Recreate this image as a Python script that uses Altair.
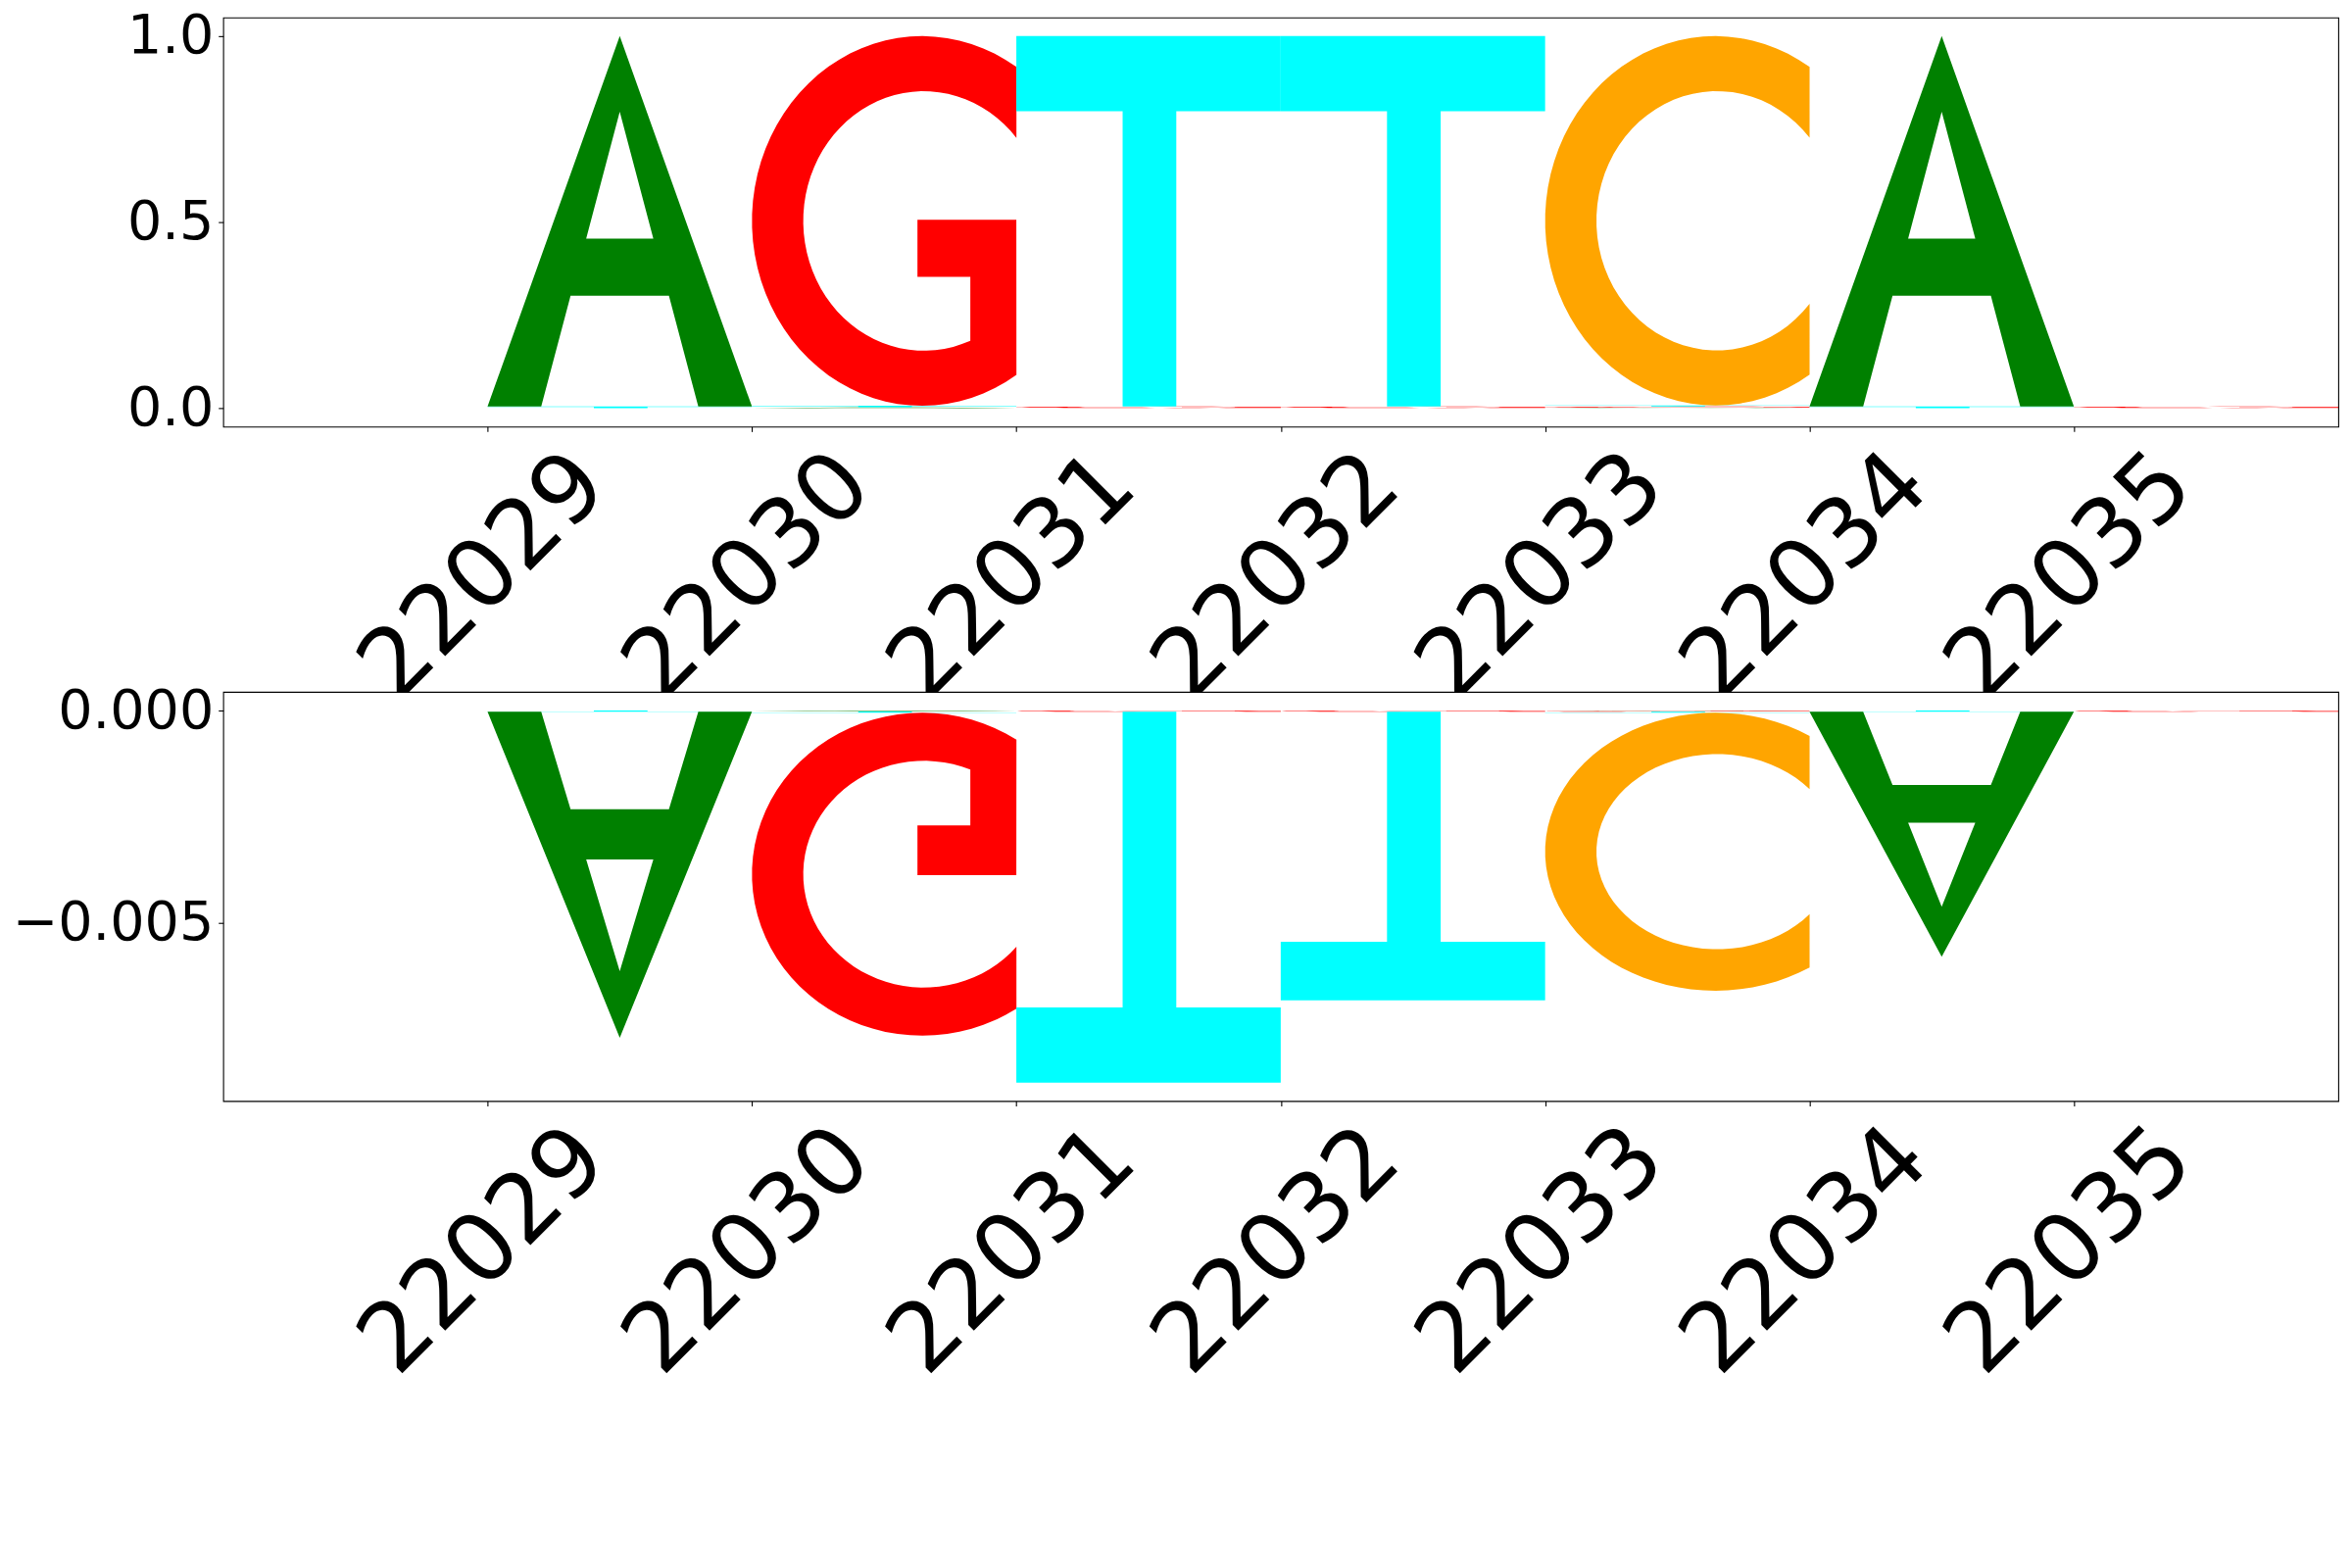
import numpy as np
import pandas as pd
import altair as alt

positions = [22029, 22030, 22031, 22032, 22033, 22034, 22035]

# upper panel, per-letter heights
top_A = [0.996, 0.002, 0.000, 0.000, 0.001, 0.996, 0.000]
top_C = [0.000, 0.000, 0.000, 0.000, 0.993, 0.000, 0.000]
top_G = [0.000, 0.994, 0.004, 0.004, 0.003, 0.000, 0.004]
top_T = [0.004, 0.004, 0.996, 0.996, 0.003, 0.004, 0.000]

# lower panel, per-letter heights (all below zero)
bot_A = [-0.00768, -0.00002, 0.0, 0.0, -0.00001, -0.00577, 0.0]
bot_C = [0.0, 0.0, 0.0, 0.0, -0.00655, 0.0, 0.0]
bot_G = [0.0, -0.00761, -0.00003, -0.00003, -0.00002, 0.0, -0.00003]
bot_T = [-0.00003, -0.00003, -0.00874, -0.00680, -0.00002, -0.00003, 0.0]

top_ticks = [0.0, 0.5, 1.0]
bot_ticks = [-0.005, 0.0]

letter_colors = {'A': 'green', 'C': 'orange', 'G': 'red', 'T': 'cyan'}


def arc(cx, cy, a, b, t0, t1, n=60):
    t = np.radians(np.linspace(t0, t1, n))
    return list(zip(cx + a * np.cos(t), cy + b * np.sin(t)))


def glyph_outline(letter):
    """Letter outline in a unit box, traced as one closed path"""
    if letter == 'A':
        return [(0, 0), (0.203, 0), (0.314, 0.299), (0.5, 0.299), (0.5, 0.453),
                (0.373, 0.453), (0.5, 0.796), (0.627, 0.453), (0.5, 0.453),
                (0.5, 0.299), (0.686, 0.299), (0.797, 0), (1, 0), (0.5, 1)]
    if letter == 'T':
        return [(0, 1), (0, 0.797), (0.402, 0.797), (0.402, 0), (0.605, 0),
                (0.605, 0.797), (1, 0.797), (1, 1)]
    outer = arc(0.644, 0.5, 0.644, 0.5, 56.4, 303.6)
    if letter == 'C':
        return outer + arc(0.65, 0.5, 0.456, 0.351, -39.8, -320.2)
    # G
    bar = [(1, 0.503), (0.626, 0.503), (0.626, 0.349), (0.826, 0.349)]
    return outer + bar + arc(0.65, 0.5, 0.456, 0.351, -67.3, -320.2)


def logo_rows(values):
    rows = []
    for k, pos in enumerate(positions):
        col = sorted((abs(v[k]), l, v[k]) for l, v in values.items() if v[k] != 0)
        up, down = 0.0, 0.0
        for _, letter, val in col:
            if val > 0:
                lo, hi, flip = up, up + val, False
                up = hi
            else:
                lo, hi, flip = down + val, down, True
                down = lo
            for i, (u, v) in enumerate(glyph_outline(letter)):
                if flip:
                    v = 1 - v
                rows.append({'gid': f'{pos}-{letter}', 'i': i, 'letter': letter,
                             'x': pos + u, 'y': lo + v * (hi - lo)})
    return pd.DataFrame(rows)


def logo_panel(df, y_domain, y_ticks, y_format):
    return alt.Chart(df).mark_line(strokeWidth=0, strokeOpacity=0).encode(
        x=alt.X('x:Q',
                scale=alt.Scale(domain=[22028, 22036], nice=False, zero=False),
                axis=alt.Axis(values=positions, format='d', title=None,
                              labelAngle=315, labelFontSize=97,
                              labelAlign='center', labelBaseline='middle',
                              labelPadding=148, labelOffset=-4)),
        y=alt.Y('y:Q',
                scale=alt.Scale(domain=y_domain, nice=False, zero=False),
                axis=alt.Axis(values=y_ticks, format=y_format, title=None,
                              labelFontSize=55.6, labelPadding=5)),
        fill=alt.Fill('letter:N',
                      scale=alt.Scale(domain=list(letter_colors),
                                      range=list(letter_colors.values())),
                      legend=None),
        detail='gid:N',
        order='i:Q'
    ).properties(width=2161, height=418)


top_df = logo_rows({'A': top_A, 'C': top_C, 'G': top_G, 'T': top_T})
bot_df = logo_rows({'A': bot_A, 'C': bot_C, 'G': bot_G, 'T': bot_T})

top = logo_panel(top_df, [-0.05, 1.05], top_ticks, '.1f')
bottom = logo_panel(bot_df, [-0.0092, 0.00044], bot_ticks, '.3f')

chart = alt.vconcat(top, bottom, spacing=271, bounds='flush').properties(
    padding={'left': 3, 'top': 0, 'right': 5, 'bottom': 5}
).configure_view(
    stroke='black', strokeWidth=1.1, fill='white'
).configure_axis(
    labelFont='DejaVu Sans', labelColor='black', tickColor='black',
    tickSize=5, tickWidth=1.1, domain=False, grid=False,
    labelLimit=2000, labelOverlap=False, labelFlush=False
)

chart.save("out.html", embed_options={"renderer": "svg", "actions": False})
